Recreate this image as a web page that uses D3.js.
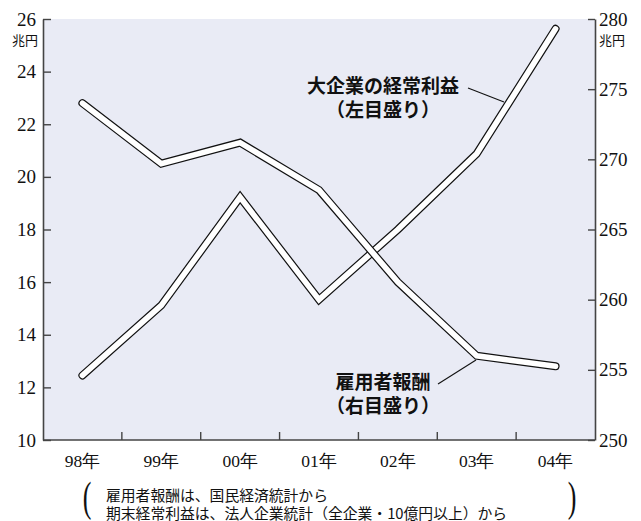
<!DOCTYPE html>
<html><head><meta charset="utf-8">
<script src="https://cdn.jsdelivr.net/npm/d3@7"></script>
<style>
body{margin:0;background:#fff;}
svg{display:block;}
</style></head>
<body>
<svg id="c" width="641" height="521"></svg>
<script>
const categories = ["98年","99年","00年","01年","02年","03年","04年"];
const profit = [22.8, 20.5, 21.3, 19.5, 16.0, 13.2, 12.8];        // 大企業の経常利益 (left axis)
const compensation = [254.6, 259.6, 267.3, 260.0, 265.0, 270.4, 279.3]; // 雇用者報酬 (right axis)
const leftTicks = [10,12,14,16,18,20,22,24,26];
const rightTicks = [250,255,260,265,270,275,280];

const svg = d3.select("#c");
const L = 43, R = 595, T = 19, B = 440;
const x = d3.scaleBand().domain(categories).range([L, R]).padding(0);
const yL = d3.scaleLinear().domain([10, 26]).range([B, T]);
const yR = d3.scaleLinear().domain([250, 280]).range([B, T]);

svg.append("rect").attr("x", L).attr("y", T).attr("width", R - L).attr("height", B - T).attr("fill", "#e9ebf5");

const serif = "'Liberation Serif', 'DejaVu Serif', serif";
const sans = "'Noto Sans CJK JP', sans-serif";

function styleAxis(g, size) {
  g.selectAll("path.domain").attr("stroke", "#444").attr("stroke-width", 1.6);
  g.selectAll(".tick line").attr("stroke", "#444").attr("stroke-width", 1.4);
  g.selectAll("text").attr("fill", "#111").style("font-family", serif).style("font-size", size + "px");
}

const gl = svg.append("g").attr("transform", `translate(${L},0)`)
  .call(d3.axisLeft(yL).tickValues(leftTicks).tickSizeInner(-8).tickSizeOuter(0).tickPadding(7));
styleAxis(gl, 19);
const gr = svg.append("g").attr("transform", `translate(${R},0)`)
  .call(d3.axisRight(yR).tickValues(rightTicks).tickSizeInner(-7).tickSizeOuter(0).tickPadding(4));
styleAxis(gr, 19);
const gb = svg.append("g").attr("transform", `translate(0,${B})`)
  .call(d3.axisBottom(x).tickSize(0).tickSizeOuter(0).tickPadding(15));
styleAxis(gb, 17.5);
gb.select("path.domain").attr("d", `M${L},0H${R}`);
// boundary ticks
gb.selectAll("line.bt").data(categories.slice(1)).enter().append("line").attr("class", "bt")
  .attr("x1", d => x(d)).attr("x2", d => x(d)).attr("y1", 0).attr("y2", -8)
  .attr("stroke", "#444").attr("stroke-width", 1.4);

// units
svg.append("text").attr("x", 25).attr("y", 45).attr("text-anchor", "middle")
  .style("font-family", sans).style("font-size", "13px").attr("fill", "#111").text("兆円");
svg.append("text").attr("x", 612).attr("y", 45).attr("text-anchor", "middle")
  .style("font-family", sans).style("font-size", "13px").attr("fill", "#111").text("兆円");

// lines
function drawLine(vals, y) {
  const gen = d3.line().x((d, i) => x(categories[i]) + x.bandwidth() / 2).y(d => y(d));
  const g = svg.append("g");
  g.append("path").attr("d", gen(vals)).attr("fill", "none").attr("stroke", "#111")
    .attr("stroke-width", 8).attr("stroke-linecap", "round").attr("stroke-linejoin", "miter");
  g.append("path").attr("d", gen(vals)).attr("fill", "none").attr("stroke", "#fff")
    .attr("stroke-width", 5.6).attr("stroke-linecap", "round").attr("stroke-linejoin", "miter");
}
drawLine(compensation, yR);
drawLine(profit, yL);

// labels (one text element, two lines)
function label(lines, cx, cy) {
  const t = svg.append("text").attr("text-anchor", "middle")
    .style("font-family", sans).style("font-size", "19px").style("font-weight", "bold").attr("fill", "#111");
  lines.forEach((s, i) => {
    t.append("tspan").attr("x", cx).attr("y", cy + i * 24 + 7).text(s);
  });
}
label(["大企業の経常利益", "（左目盛り）"], 383, 86);
label(["雇用者報酬", "（右目盛り）"], 383, 382);
svg.append("line").attr("x1", 468).attr("y1", 88).attr("x2", 504).attr("y2", 102).attr("stroke", "#111").attr("stroke-width", 1.1);
svg.append("line").attr("x1", 438).attr("y1", 384).attr("x2", 476).attr("y2", 360).attr("stroke", "#111").attr("stroke-width", 1.1);

// footnote
const notes = ["雇用者報酬は、国民経済統計から", "期末経常利益は、法人企業統計（全企業・10億円以上）から"];
const fn = svg.append("text").style("font-family", sans).style("font-size", "14.8px").attr("fill", "#111");
notes.forEach((s, i) => {
  fn.append("tspan").attr("x", 106).attr("y", 501 + i * 17.5).text(s);
});
svg.append("text").attr("transform", "translate(87,511) scale(1,1.6)").attr("text-anchor", "middle")
  .style("font-family", serif).style("font-size", "26px").attr("fill", "#111").text("(");
svg.append("text").attr("transform", "translate(572,511) scale(1,1.6)").attr("text-anchor", "middle")
  .style("font-family", serif).style("font-size", "26px").attr("fill", "#111").text(")");
</script>
</body></html>
